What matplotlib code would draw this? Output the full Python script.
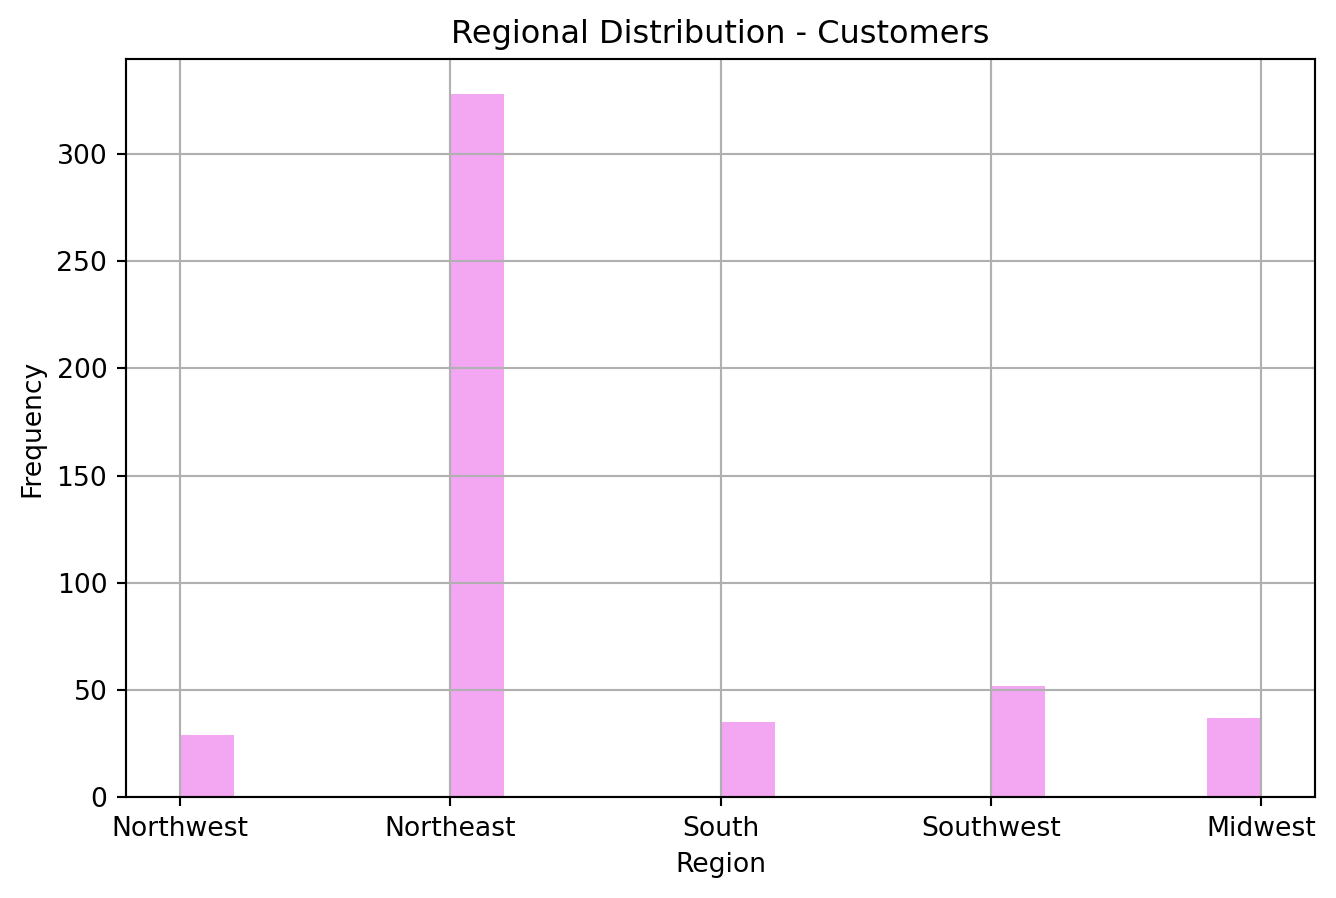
import numpy as np
import matplotlib
matplotlib.use("Agg")
import matplotlib.pyplot as plt

regions = ["Northwest", "Northeast", "South", "Southwest", "Midwest"]
counts = [29, 328, 35, 52, 37]

codes = np.arange(len(regions))

fig, ax = plt.subplots(figsize=(1336 / 192, 898 / 192), dpi=192)
fig.subplots_adjust(left=0.0943, right=0.9843, top=0.9343, bottom=0.1125)

ax.hist(codes, bins=20, weights=counts, color="violet", alpha=0.7)
ax.set_xticks(codes)
ax.set_xticklabels(regions)
ax.grid(True)
ax.set_title("Regional Distribution - Customers")
ax.set_xlabel("Region")
ax.set_ylabel("Frequency")

fig.savefig("out.png", dpi=192)
